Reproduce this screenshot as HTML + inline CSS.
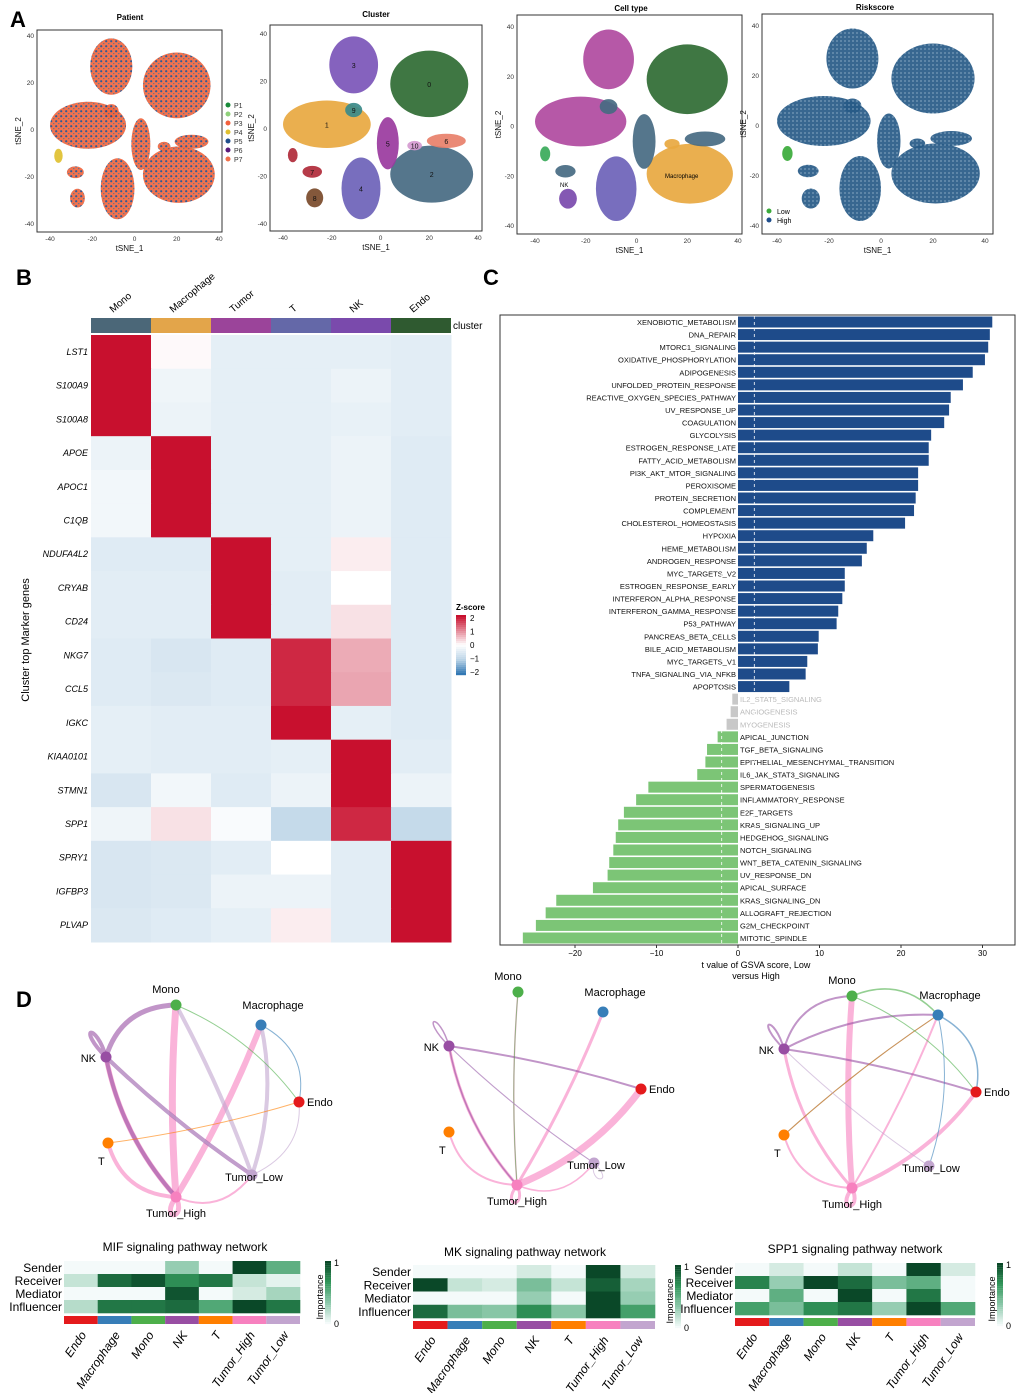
<!DOCTYPE html>
<html><head><meta charset="utf-8">
<style>
body{margin:0;background:#fff;}
svg{display:block;font-family:"Liberation Sans",Arial,sans-serif;}
</style></head>
<body>
<svg id="fig" width="1020" height="1393" viewBox="0 0 1020 1393" xmlns="http://www.w3.org/2000/svg">
<defs>
<pattern id="patP" width="5" height="5" patternUnits="userSpaceOnUse"><rect width="5" height="5" fill="#f0663f"/><circle cx="1.2" cy="1.2" r="1.1" fill="#1f4e8c"/><circle cx="3.8" cy="3.6" r="0.6" fill="#2d6a9a"/></pattern>
<pattern id="patR" width="4" height="4" patternUnits="userSpaceOnUse"><rect width="4" height="4" fill="#275a86"/><circle cx="1" cy="1" r="0.6" fill="#b8d0e4"/></pattern>
</defs>
<g id="panelA"></g>
<g id="panelB"></g>
<g id="panelC"></g>
<g id="panelD"></g>
<text x="10" y="27" font-size="22" font-weight="bold">A</text>
<text x="16" y="285" font-size="22" font-weight="bold">B</text>
<text x="483" y="285" font-size="22" font-weight="bold">C</text>
<text x="16" y="1007" font-size="22" font-weight="bold">D</text>
</svg>
<script>
const NS="http://www.w3.org/2000/svg";
function mk(parent,tag,attrs,text){const e=document.createElementNS(NS,tag);for(const k in attrs)e.setAttribute(k,attrs[k]);if(text!==undefined)e.textContent=text;parent.appendChild(e);return e;}

/* ---------- Panel C data ---------- */
const gsvaPathways=["XENOBIOTIC_METABOLISM","DNA_REPAIR","MTORC1_SIGNALING","OXIDATIVE_PHOSPHORYLATION","ADIPOGENESIS","UNFOLDED_PROTEIN_RESPONSE","REACTIVE_OXYGEN_SPECIES_PATHWAY","UV_RESPONSE_UP","COAGULATION","GLYCOLYSIS","ESTROGEN_RESPONSE_LATE","FATTY_ACID_METABOLISM","PI3K_AKT_MTOR_SIGNALING","PEROXISOME","PROTEIN_SECRETION","COMPLEMENT","CHOLESTEROL_HOMEOSTASIS","HYPOXIA","HEME_METABOLISM","ANDROGEN_RESPONSE","MYC_TARGETS_V2","ESTROGEN_RESPONSE_EARLY","INTERFERON_ALPHA_RESPONSE","INTERFERON_GAMMA_RESPONSE","P53_PATHWAY","PANCREAS_BETA_CELLS","BILE_ACID_METABOLISM","MYC_TARGETS_V1","TNFA_SIGNALING_VIA_NFKB","APOPTOSIS","IL2_STAT5_SIGNALING","ANGIOGENESIS","MYOGENESIS","APICAL_JUNCTION","TGF_BETA_SIGNALING","EPITHELIAL_MESENCHYMAL_TRANSITION","IL6_JAK_STAT3_SIGNALING","SPERMATOGENESIS","INFLAMMATORY_RESPONSE","E2F_TARGETS","KRAS_SIGNALING_UP","HEDGEHOG_SIGNALING","NOTCH_SIGNALING","WNT_BETA_CATENIN_SIGNALING","UV_RESPONSE_DN","APICAL_SURFACE","KRAS_SIGNALING_DN","ALLOGRAFT_REJECTION","G2M_CHECKPOINT","MITOTIC_SPINDLE"];
const gsvaTvalues=[31.2,30.9,30.7,30.3,28.8,27.6,26.1,25.9,25.3,23.7,23.4,23.4,22.1,22.1,21.8,21.6,20.5,16.6,15.8,15.2,13.1,13.1,12.8,12.3,12.1,9.9,9.8,8.5,8.3,6.3,-0.7,-0.9,-1.4,-2.5,-3.8,-4.0,-5.0,-11.0,-12.5,-14.0,-14.7,-15.0,-15.3,-15.8,-16.0,-17.8,-22.3,-23.6,-24.8,-26.4];
const gsvaTicks=[-20,-10,0,10,20,30];
const gsvaThreshold=2;

/* ---------- Panel B data ---------- */
const hmClusters=["Mono","Macrophage","Tumor","T","NK","Endo"];
const hmClusterColors=["#4b6778","#e3a54a","#9b449a","#6468a8","#7a4aac","#2f5a30"];
const hmGenes=["LST1","S100A9","S100A8","APOE","APOC1","C1QB","NDUFA4L2","CRYAB","CD24","NKG7","CCL5","IGKC","KIAA0101","STMN1","SPP1","SPRY1","IGFBP3","PLVAP"];
const hmZ=[
[2,0.05,-0.4,-0.4,-0.4,-0.45],
[2,-0.25,-0.4,-0.4,-0.3,-0.45],
[2,-0.3,-0.4,-0.4,-0.35,-0.45],
[-0.3,2,-0.4,-0.4,-0.3,-0.5],
[-0.2,2,-0.4,-0.4,-0.3,-0.5],
[-0.2,2,-0.4,-0.4,-0.3,-0.5],
[-0.5,-0.5,2,-0.4,0.15,-0.5],
[-0.45,-0.45,2,-0.45,0,-0.5],
[-0.45,-0.45,2,-0.45,0.25,-0.5],
[-0.5,-0.6,-0.5,1.8,0.7,-0.5],
[-0.5,-0.55,-0.5,1.8,0.75,-0.5],
[-0.4,-0.45,-0.45,2,-0.4,-0.5],
[-0.4,-0.45,-0.45,-0.4,2,-0.45],
[-0.6,-0.2,-0.5,-0.3,2,-0.3],
[-0.25,0.25,-0.1,-0.9,1.8,-0.9],
[-0.6,-0.55,-0.45,0,-0.45,2],
[-0.6,-0.55,-0.3,-0.3,-0.45,2],
[-0.55,-0.5,-0.4,0.15,-0.45,2]];
const zTicks=[2,1,0,-1,-2];

/* ---------- Panel D data ---------- */
const netNodes=["Mono","Macrophage","Endo","Tumor_Low","Tumor_High","T","NK"];
const netColors={Mono:"#4daf4a",Macrophage:"#377eb8",Endo:"#e41a1c",Tumor_Low:"#c2a5cf",Tumor_High:"#f781bf",T:"#ff7f00",NK:"#984ea3"};
const netEdges1=[["Tumor_High","Mono",7],["Tumor_High","Macrophage",6],["Tumor_High","NK",5],["Tumor_High","T",4],["Tumor_High","Tumor_High",5],["Tumor_High","Tumor_Low",2],["NK","Mono",5],["NK","Tumor_Low",4],["NK","NK",4],["NK","Tumor_High",4],["Tumor_Low","Mono",4],["Tumor_Low","Macrophage",4],["Tumor_Low","NK",3],["Mono","Endo",1],["Macrophage","Endo",1],["T","Endo",1],["Tumor_Low","Endo",1]];
const netEdges2=[["Tumor_High","Endo",7],["Tumor_High","NK",3],["Tumor_High","T",2],["Tumor_High","Macrophage",3],["Tumor_High","Mono",1.5],["Tumor_High","Tumor_Low",1.5],["Tumor_High","Tumor_High",3],["NK","Endo",2],["NK","NK",1.5],["NK","Tumor_High",1.5],["NK","Tumor_Low",1],["Mono","Tumor_High",1],["Tumor_Low","Tumor_Low",1],["Tumor_Low","NK",1]];
const netEdges3=[["Tumor_High","Mono",6],["Tumor_High","Endo",4],["Tumor_High","NK",3],["Tumor_High","T",2],["Tumor_High","Macrophage",2],["Tumor_High","Tumor_High",4],["NK","Macrophage",2],["NK","Endo",2],["NK","Mono",2],["NK","NK",2],["Mono","Macrophage",1.5],["Macrophage","Endo",1.5],["Macrophage","T",1],["Macrophage","Tumor_Low",1],["T","Macrophage",1],["Tumor_Low","NK",1],["Mono","Endo",1]];
const roles=["Sender","Receiver","Mediator","Influencer"];
const hmGroups=["Endo","Macrophage","Mono","NK","T","Tumor_High","Tumor_Low"];
const mifImp=[[0,0,0,0.3,0,1,0.5],[0.15,0.85,0.95,0.7,0.8,0.15,0.05],[0,0,0,0.95,0,0.1,0.25],[0.2,0.8,0.8,0.85,0.55,1,0.8]];
const mkImp=[[0,0,0,0.1,0,1,0.1],[1,0.15,0.1,0.4,0.15,0.9,0.25],[0,0,0,0.3,0,1,0.3],[0.85,0.4,0.35,0.7,0.35,1,0.6]];
const spp1Imp=[[0,0.1,0,0.15,0,1,0.1],[0.75,0.3,1,0.85,0.4,0.5,0],[0,0.5,0,1,0,0.8,0],[0.6,0.4,0.7,0.8,0.3,1,0.55]];

/* ---------- Panel A layout (shape outlines) ---------- */
const tsneBlobs=[
 {c:[-11,27],r:[10,12],col:["url(#patP)","#7b55b8","#b04aa0","url(#patR)"],lab:"3"},
 {c:[20,19],r:[16,14],col:["url(#patP)","#2f6b33","#2f6b33","url(#patR)"],lab:"0"},
 {c:[-22,2],r:[18,10],col:["url(#patP)","#e8a840","#b04aa0","url(#patR)"],lab:"1"},
 {c:[21,-19],r:[17,12],col:["url(#patP)","#466a82","#e8a840","url(#patR)"],lab:"2"},
 {c:[-8,-25],r:[8,13],col:["url(#patP)","#6d62b8","#6d62b8","url(#patR)"],lab:"4"},
 {c:[3,-6],r:[4.5,11],col:["url(#patP)","#9a3a9e","#466a82","url(#patR)"],lab:"5"},
 {c:[-28,-18],r:[4,2.5],col:["url(#patP)","#b02a3a","#466a82","url(#patR)"],lab:"7"},
 {c:[-27,-29],r:[3.5,4],col:["url(#patP)","#7a4a2a","#7a4aac","url(#patR)"],lab:"8"},
 {c:[-11,8],r:[3.5,3],col:["url(#patP)","#3a8a8a","#466a82","url(#patR)"],lab:"9"},
 {c:[27,-5],r:[8,3],col:["url(#patP)","#e8806a","#466a82","url(#patR)"],lab:"6"},
 {c:[14,-7],r:[3,2],col:["url(#patP)","#d59ad0","#e8a840","url(#patR)"],lab:"10"},
 {c:[-36,-11],r:[2,3],col:["#e0c030","#b02a3a","#3aaa5a","#3aaa3a"],lab:""}
];
const tsnePlots=[
 {title:"Patient",fx:[37,222],fy:[30,232],tx:[50,219],ty:[36,224],tyY:20,tyX:130},
 {title:"Cluster",fx:[270,482],fy:[25,231],tx:[283,478],ty:[34,224],tyY:17,tyX:376},
 {title:"Cell type",fx:[517,742],fy:[15,234],tx:[535,738],ty:[27,226],tyY:11,tyX:631},
 {title:"Riskscore",fx:[762,993],fy:[14,234],tx:[777,985],ty:[26,226],tyY:10,tyX:875}
];
const A=document.getElementById("panelA");
tsnePlots.forEach((p,pi)=>{
 const g=mk(A,"g",{});
 
 
 const sx=v=>p.tx[0]+(v+40)/80*(p.tx[1]-p.tx[0]);
 const sy=v=>p.ty[0]+(40-v)/80*(p.ty[1]-p.ty[0]);
 mk(g,"rect",{x:p.fx[0],y:p.fy[0],width:p.fx[1]-p.fx[0],height:p.fy[1]-p.fy[0],fill:"#fff",stroke:"#333","stroke-width":1});
 tsneBlobs.forEach(b=>{
  const e=mk(g,"ellipse",{cx:sx(b.c[0]),cy:sy(b.c[1]),rx:b.r[0]/80*(p.tx[1]-p.tx[0]),ry:b.r[1]/80*(p.ty[1]-p.ty[0]),fill:b.col[pi],opacity:0.92});
  
  
  if(pi==1&&b.lab)mk(g,"text",{x:sx(b.c[0]),y:sy(b.c[1])+3,"font-size":7,"text-anchor":"middle",fill:"#111"},b.lab);
 });
 [-40,-20,0,20,40].forEach(t=>{
  mk(g,"text",{x:sx(t),y:p.fy[1]+9,"font-size":6.5,"text-anchor":"middle",fill:"#333"},t);
  mk(g,"text",{x:p.fx[0]-3,y:sy(t)+2,"font-size":6.5,"text-anchor":"end",fill:"#333"},t);
 });
 mk(g,"text",{x:(p.fx[0]+p.fx[1])/2,y:p.fy[1]+19,"font-size":8,"text-anchor":"middle",fill:"#111"},"tSNE_1");
 mk(g,"text",{x:p.fx[0]-16,y:(p.fy[0]+p.fy[1])/2,"font-size":8,"text-anchor":"middle",fill:"#111",transform:`rotate(-90 ${p.fx[0]-16} ${(p.fy[0]+p.fy[1])/2})`},"tSNE_2");
 mk(g,"text",{x:p.tyX,y:p.tyY,"font-size":8,"font-weight":"bold","text-anchor":"middle"},p.title);
});
mk(A,"text",{x:560,y:187,"font-size":6},"NK");
mk(A,"text",{x:665,y:178,"font-size":6},"Macrophage");
const pCols=["#1a8a3a","#8fd07a","#f2603c","#e0c030","#1f4e8c","#5a1a7a","#f0704a"];
pCols.forEach((c,i)=>{mk(A,"circle",{cx:228,cy:105+i*9,r:2.5,fill:c});mk(A,"text",{x:234,y:108+i*9,"font-size":7,fill:"#333"},"P"+(i+1));});
mk(A,"circle",{cx:769,cy:211,r:2.5,fill:"#3aaa3a"});mk(A,"text",{x:777,y:214,"font-size":7},"Low");
mk(A,"circle",{cx:769,cy:220,r:2.5,fill:"#1f4e8c"});mk(A,"text",{x:777,y:223,"font-size":7},"High");

/* ---------- Panel B ---------- */
const B=document.getElementById("panelB");
const hx0=91,hcw=60,hy0=335,hrh=(942-335)/18;
function zcol(z){
 const lerp=(a,b,t)=>a.map((v,i)=>Math.round(v+(b[i]-v)*t));
 let c;
 if(z>=0){c=lerp([255,255,255],[200,16,46],Math.min(z,2)/2);}
 else{const t=Math.min(-z,2)/2;c=t<0.5?lerp([255,255,255],[190,214,232],t/0.5):lerp([190,214,232],[50,120,180],(t-0.5)/0.5);}
 return `rgb(${c[0]},${c[1]},${c[2]})`;
}
hmGenes.forEach((gname,r)=>{
 hmClusters.forEach((cn,c)=>{
  const e=mk(B,"rect",{x:hx0+c*hcw,y:hy0+r*hrh,width:hcw+0.5,height:hrh+0.5,fill:zcol(hmZ[r][c])});
  
  
 });
 mk(B,"text",{x:88,y:hy0+r*hrh+hrh/2+3,"font-size":9,"font-style":"italic","text-anchor":"end"},gname);
});
hmClusters.forEach((cn,c)=>{
 mk(B,"rect",{x:hx0+c*hcw,y:318,width:hcw,height:15,fill:hmClusterColors[c]});
 const x=hx0+c*hcw+hcw/2-8,y=313;
 mk(B,"text",{x:x,y:y,"font-size":10,transform:`rotate(-40 ${x} ${y})`},cn);
});
mk(B,"text",{x:453,y:329,"font-size":10},"cluster");
mk(B,"text",{x:29,y:640,"font-size":11,"text-anchor":"middle",transform:"rotate(-90 29 640)"},"Cluster top Marker genes");
mk(B,"text",{x:456,y:610,"font-size":8,"font-weight":"bold"},"Z-score");
for(let i=0;i<30;i++){mk(B,"rect",{x:456,y:615+i*2,width:10,height:2.2,fill:zcol(2-i*4/29)});}
zTicks.forEach((t,i)=>mk(B,"text",{x:470,y:621+i*13.5,"font-size":8},t===0?"0":(t<0?"−"+(-t):t)));

/* ---------- Panel C ---------- */
const C=document.getElementById("panelC");
mk(C,"rect",{x:500,y:315,width:515,height:630,fill:"#fff",stroke:"#333","stroke-width":1});
const cx=v=>738+v*8.15;
const ry0=322,rdy=(938-322)/49;
gsvaPathways.forEach((name,i)=>{
 const v=gsvaTvalues[i];
 const y=ry0+i*rdy;
 const col=Math.abs(v)<gsvaThreshold?"#c8c8c8":(v>0?"#1e4b8a":"#7cc576");
 const b=mk(C,"rect",{x:Math.min(cx(0),cx(v)),y:y-5.5,width:Math.abs(cx(v)-cx(0)),height:11,fill:col});
 
 
 const pos=v>0&&Math.abs(v)>=gsvaThreshold;
 mk(C,"text",{x:pos?736:740,y:y+3,"font-size":7.5,"text-anchor":pos?"end":"start",fill:Math.abs(v)<gsvaThreshold?"#bbb":"#111"},name);
});
mk(C,"line",{x1:cx(gsvaThreshold),x2:cx(gsvaThreshold),y1:316,y2:944,stroke:"#fff","stroke-dasharray":"3,3","stroke-width":0.8});
mk(C,"line",{x1:cx(-gsvaThreshold),x2:cx(-gsvaThreshold),y1:316,y2:944,stroke:"#fff","stroke-dasharray":"3,3","stroke-width":0.8});
gsvaTicks.forEach(t=>{mk(C,"line",{x1:cx(t),x2:cx(t),y1:945,y2:948,stroke:"#333"});mk(C,"text",{x:cx(t),y:956,"font-size":8,"text-anchor":"middle"},t<0?"−"+(-t):t);});
mk(C,"text",{x:756,y:968,"font-size":9,"text-anchor":"middle"},"t value of GSVA score, Low");
mk(C,"text",{x:756,y:979,"font-size":9,"text-anchor":"middle"},"versus High");

/* ---------- Panel D ---------- */
const D=document.getElementById("panelD");
const netLayouts=[
 {Mono:[176,1005],Macrophage:[261,1025],Endo:[299,1102],Tumor_Low:[252,1175],Tumor_High:[176,1197],T:[108,1143],NK:[106,1057]},
 {Mono:[518,992],Macrophage:[603,1012],Endo:[641,1089],Tumor_Low:[594,1163],Tumor_High:[517,1185],T:[449,1132],NK:[449,1046]},
 {Mono:[852,996],Macrophage:[938,1015],Endo:[976,1092],Tumor_Low:[929,1166],Tumor_High:[852,1188],T:[784,1135],NK:[784,1049]}];
const netEdgeSets=[netEdges1,netEdges2,netEdges3];
const labOff={Mono:[-10,-12,"middle"],Macrophage:[12,-16,"middle"],Endo:[8,4,"start"],Tumor_Low:[2,6,"middle"],Tumor_High:[0,20,"middle"],T:[-10,22,"start"],NK:[-10,5,"end"]};
netLayouts.forEach((L,ni)=>{
 const g=mk(D,"g",{});
 
 
 let mx=0,my=0;netNodes.forEach(n=>{mx+=L[n][0];my+=L[n][1];});mx/=7;my/=7;
 netEdgeSets[ni].forEach(e=>{
  const a=L[e[0]],b=L[e[1]];
  let d;
  if(e[0]===e[1]){const dx=a[0]-mx,dy=a[1]-my,len=Math.hypot(dx,dy);const ox=a[0]+dx/len*14,oy=a[1]+dy/len*14;d=`M${a[0]},${a[1]} C${ox-14},${oy+10} ${ox+14},${oy+10} ${a[0]},${a[1]}`;if(e[0]==="NK")d=`M${a[0]},${a[1]} C${a[0]-30},${a[1]-30} ${a[0]-10},${a[1]-35} ${a[0]},${a[1]}`;}
  else{const midx=(a[0]+b[0])/2,midy=(a[1]+b[1])/2;const qx=midx+(midx-mx)*0.35,qy=midy+(midy-my)*0.35;d=`M${a[0]},${a[1]} Q${qx},${qy} ${b[0]},${b[1]}`;}
  const p=mk(g,"path",{d:d,fill:"none",stroke:netColors[e[0]],"stroke-width":e[2],opacity:0.6,"stroke-linecap":"round"});
  
  
 });
 netNodes.forEach(n=>{
  const c=mk(g,"circle",{cx:L[n][0],cy:L[n][1],r:5.5,fill:netColors[n]});
  
  
  const o=labOff[n];
  mk(g,"text",{x:L[n][0]+o[0],y:L[n][1]+o[1],"font-size":11,"text-anchor":o[2]},n);
 });
});
function gcol(v){const s=[[244,250,250],[140,200,170],[50,150,90],[10,72,40]];const t=v*3,i=Math.min(2,Math.floor(t)),f=t-i;const c=s[i].map((x,k)=>Math.round(x+(s[i+1][k]-x)*f));return `rgb(${c})`;}
const grpColors=["#e41a1c","#377eb8","#4daf4a","#984ea3","#ff7f00","#f781bf","#c2a5cf"];
const impHm=[
 {title:"MIF signaling pathway network",data:mifImp,x0:64,x1:300,y0:1261,y1:1313,tx:185,ty:1251,lx:325},
 {title:"MK signaling pathway network",data:mkImp,x0:413,x1:655,y0:1265,y1:1318,tx:525,ty:1256,lx:675},
 {title:"SPP1 signaling pathway network",data:spp1Imp,x0:735,x1:975,y0:1263,y1:1315,tx:855,ty:1253,lx:997}];
impHm.forEach((h,hi)=>{
 const g=mk(D,"g",{});
 
 
 const cw=(h.x1-h.x0)/7,rh=(h.y1-h.y0)/4;
 mk(g,"text",{x:h.tx,y:h.ty,"font-size":12,"text-anchor":"middle"},h.title);
 roles.forEach((r,ri)=>{
  hmGroups.forEach((gr,ci)=>{
   const e=mk(g,"rect",{x:h.x0+ci*cw,y:h.y0+ri*rh,width:cw+0.3,height:rh+0.3,fill:gcol(h.data[ri][ci])});
   
   
  });
  mk(g,"text",{x:h.x0-2,y:h.y0+ri*rh+rh/2+4.5,"font-size":12,"text-anchor":"end"},r);
 });
 hmGroups.forEach((gr,ci)=>{
  mk(g,"rect",{x:h.x0+ci*cw,y:h.y1+3,width:cw,height:8,fill:grpColors[ci]});
  const x=h.x0+ci*cw+cw/2+6,y=h.y1+22;
  mk(g,"text",{x:x,y:y,"font-size":12,"font-style":"italic","text-anchor":"end",transform:`rotate(-55 ${x} ${y})`},gr);
 });
 for(let i=0;i<30;i++)mk(g,"rect",{x:h.lx,y:h.y0+i*2.1,width:6,height:2.2,fill:gcol(1-i/29)});
 mk(g,"text",{x:h.lx+9,y:h.y0+5,"font-size":9},"1");
 mk(g,"text",{x:h.lx+9,y:h.y0+66,"font-size":9},"0");
 mk(g,"text",{x:h.lx-2,y:h.y0+36,"font-size":9,"text-anchor":"middle",transform:`rotate(-90 ${h.lx-2} ${h.y0+36})`},"Importance");
});
</script>
</body></html>
